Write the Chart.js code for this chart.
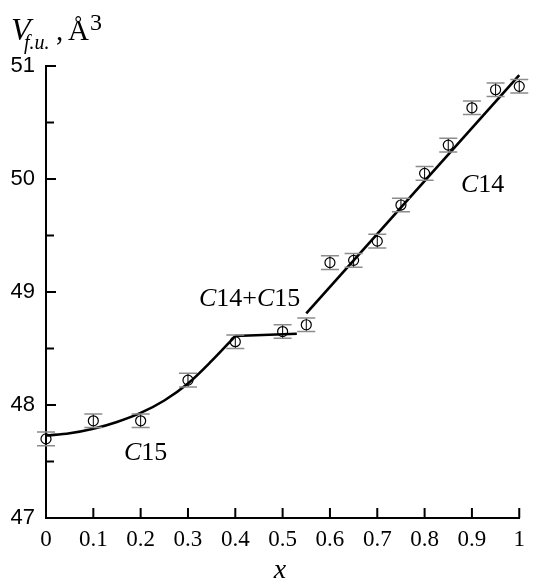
<!DOCTYPE html>
<html>
<head>
<meta charset="utf-8">
<script src="https://cdn.jsdelivr.net/npm/chart.js@4/dist/chart.umd.min.js"></script>
<style>
  html, body { margin: 0; padding: 0; background: #fff; }
  #wrap { width: 533px; height: 580px; }
</style>
</head>
<body>
<div id="wrap"><canvas id="chart" width="533" height="580"></canvas></div>
<script>
// measured points
const compX = [0, 0.1, 0.2, 0.3, 0.4, 0.5, 0.55, 0.6, 0.65, 0.7, 0.75, 0.8, 0.85, 0.9, 0.95, 1.0];
const volume = [47.70, 47.86, 47.86, 48.22, 48.56, 48.65, 48.71, 49.26, 49.28, 49.45, 49.77, 50.05, 50.30, 50.63, 50.79, 50.82];
const volErr = [0.06, 0.06, 0.06, 0.06, 0.06, 0.06, 0.06, 0.06, 0.06, 0.06, 0.06, 0.06, 0.06, 0.06, 0.06, 0.06];

// fitted curves
const c15X = [0, 0.05, 0.1, 0.15, 0.2, 0.25, 0.3, 0.35, 0.4];
const c15V = [47.73, 47.75, 47.79, 47.85, 47.93, 48.04, 48.19, 48.39, 48.61];
const mixX = [0.4, 0.53];
const mixV = [48.61, 48.63];
const c14X = [0.55, 1.0];
const c14V = [48.81, 50.92];

const xTicks = [0, 0.1, 0.2, 0.3, 0.4, 0.5, 0.6, 0.7, 0.8, 0.9, 1];
const yTicks = [47, 48, 49, 50, 51];
const yMinor = [47.5, 48.5, 49.5, 50.5];

const pts = (xs, ys) => xs.map((x, i) => ({ x: x, y: ys[i] }));
const SERIF = "'Liberation Serif', 'Times New Roman', serif";
const SANS = "'Liberation Sans', Arial, sans-serif";

const errorBars = {
  id: "errorBars",
  afterDatasetsDraw(chart) {
    const { ctx, scales: { x, y } } = chart;
    ctx.save();
    compX.forEach((cx, i) => {
      const px = x.getPixelForValue(cx);
      const top = y.getPixelForValue(volume[i] + volErr[i]);
      const bot = y.getPixelForValue(volume[i] - volErr[i]);
      ctx.strokeStyle = "#000";
      ctx.lineWidth = 1;
      ctx.beginPath();
      ctx.moveTo(px, top);
      ctx.lineTo(px, bot);
      ctx.stroke();
      ctx.strokeStyle = "#8c8c8c";
      ctx.lineWidth = 1.5;
      ctx.beginPath();
      ctx.moveTo(px - 9, top);
      ctx.lineTo(px + 9, top);
      ctx.moveTo(px - 9, bot);
      ctx.lineTo(px + 9, bot);
      ctx.stroke();
    });
    ctx.restore();
  },
};

const decorations = {
  id: "decorations",
  afterDraw(chart) {
    const { ctx, scales: { x, y } } = chart;
    const x0 = x.left, y0 = y.bottom;
    ctx.save();
    ctx.strokeStyle = "#000";
    ctx.lineWidth = 2;
    ctx.beginPath();
    xTicks.forEach((t) => {
      const px = x.getPixelForValue(t);
      ctx.moveTo(px, y0);
      ctx.lineTo(px, y0 - 10);
    });
    yTicks.forEach((t) => {
      const py = y.getPixelForValue(t);
      ctx.moveTo(x0, py);
      ctx.lineTo(x0 + 10, py);
    });
    yMinor.forEach((t) => {
      const py = y.getPixelForValue(t);
      ctx.moveTo(x0, py);
      ctx.lineTo(x0 + 8, py);
    });
    ctx.stroke();

    ctx.fillStyle = "#000";
    ctx.textBaseline = "alphabetic";
    ctx.textAlign = "left";
    const label = (parts, px, py) => {
      let cx = px;
      parts.forEach(([txt, font]) => {
        ctx.font = font;
        ctx.fillText(txt, cx, py);
        cx += ctx.measureText(txt).width;
      });
    };
    label([["C", "italic 26px " + SERIF], ["15", "26px " + SERIF]], 124, 460);
    label([["C", "italic 26px " + SERIF], ["14+", "26px " + SERIF], ["C", "italic 26px " + SERIF], ["15", "26px " + SERIF]], 199, 306);
    label([["C", "italic 26px " + SERIF], ["14", "26px " + SERIF]], 461, 192);

    // y axis title
    ctx.font = "italic 32px " + SERIF;
    ctx.fillText("V", 11, 40);
    ctx.font = "italic 20px " + SERIF;
    ctx.fillText("f.u.", 24, 49);
    ctx.font = "29px " + SERIF;
    ctx.fillText(",", 56, 40);
    ctx.fillText("Å", 68, 40);
    ctx.font = "24px " + SERIF;
    ctx.fillText("3", 90, 30);

    // x axis title
    ctx.font = "italic 28px " + SERIF;
    ctx.textAlign = "center";
    ctx.fillText("x", 280, 578);
    ctx.restore();
  },
};

new Chart(document.getElementById("chart").getContext("2d"), {
  type: "scatter",
  data: {
    datasets: [
      {
        data: pts(compX, volume),
        pointRadius: 5,
        pointHoverRadius: 5,
        pointBorderWidth: 1.2,
        pointBorderColor: "#000",
        pointBackgroundColor: "rgba(0,0,0,0)",
        showLine: false,
        clip: false,
      },
      {
        data: pts(c15X, c15V),
        showLine: true,
        borderColor: "#000",
        borderWidth: 2.6,
        pointRadius: 0,
        cubicInterpolationMode: "monotone",
        clip: false,
      },
      {
        data: pts(mixX, mixV),
        showLine: true,
        borderColor: "#000",
        borderWidth: 2.6,
        pointRadius: 0,
      },
      {
        data: pts(c14X, c14V),
        showLine: true,
        borderColor: "#000",
        borderWidth: 2.6,
        pointRadius: 0,
        clip: false,
      },
    ],
  },
  options: {
    responsive: false,
    animation: false,
    layout: { padding: { top: 66, right: 12, left: 0, bottom: 0 } },
    plugins: {
      legend: { display: false },
      tooltip: { enabled: false },
    },
    scales: {
      x: {
        type: "linear",
        min: 0,
        max: 1,
        afterFit: (s) => { s.height = 62; },
        afterBuildTicks: (s) => { s.ticks = xTicks.map((v) => ({ value: v })); },
        grid: { color: "rgba(0,0,0,0)", drawTicks: false },
        border: { display: true, color: "#000", width: 2 },
        ticks: {
          color: "#000",
          padding: 8,
          maxRotation: 0,
          autoSkip: false,
          font: { family: SERIF, size: 23 },
          callback: (v) => String(v),
        },
      },
      y: {
        type: "linear",
        min: 47,
        max: 51,
        afterFit: (s) => { s.width = 46; },
        afterBuildTicks: (s) => { s.ticks = yTicks.map((v) => ({ value: v })); },
        grid: { color: "rgba(0,0,0,0)", drawTicks: false },
        border: { display: true, color: "#000", width: 2 },
        ticks: {
          color: "#000",
          padding: 11,
          font: { family: SANS, size: 22 },
          callback: (v) => String(v),
        },
      },
    },
  },
  plugins: [errorBars, decorations],
});
</script>
</body>
</html>
